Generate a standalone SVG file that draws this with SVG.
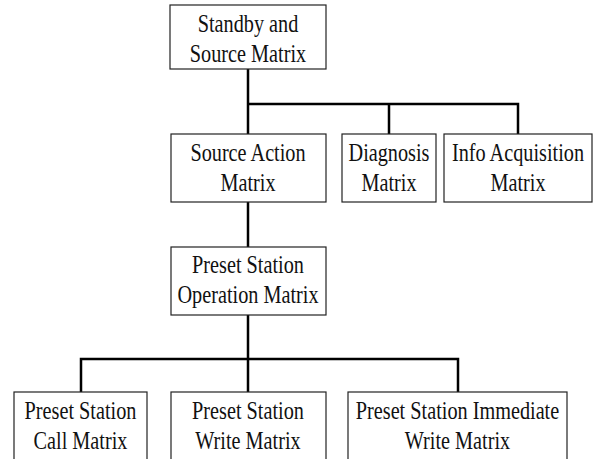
<svg xmlns="http://www.w3.org/2000/svg" width="593" height="459" viewBox="0 0 593 459">
<style>
.box{fill:#fff;stroke:#222;stroke-width:1.2}
.lbl{font-family:"Liberation Serif","Times New Roman",serif;font-size:25px;fill:#111;text-anchor:middle}
.con{stroke:#000;stroke-width:2.5;fill:none}
</style>
<rect width="593" height="459" fill="#fff"/>
<g id="connectors">
<path class="con" d="M248,69V134M248,104H518V134M389,104V134"/>
<path class="con" d="M248,202V247"/>
<path class="con" d="M248,315V392M81,392V359H458V392"/>
</g>
<g id="standby">
<rect class="box" x="170" y="5" width="156" height="64"/>
<g transform="translate(248,0) scale(0.81,1)"><text class="lbl" x="0" y="32">Standby and</text><text class="lbl" x="0" y="62">Source Matrix</text></g>
</g>
<g id="source-action">
<rect class="box" x="171" y="134" width="155" height="68"/>
<g transform="translate(248,0) scale(0.81,1)"><text class="lbl" x="0" y="161">Source Action</text><text class="lbl" x="0" y="191">Matrix</text></g>
</g>
<g id="diagnosis">
<rect class="box" x="342" y="134" width="94" height="68"/>
<g transform="translate(389,0) scale(0.81,1)"><text class="lbl" x="0" y="161">Diagnosis</text><text class="lbl" x="0" y="191">Matrix</text></g>
</g>
<g id="info">
<rect class="box" x="444" y="134" width="148" height="68"/>
<g transform="translate(518,0) scale(0.81,1)"><text class="lbl" x="0" y="161">Info Acquisition</text><text class="lbl" x="0" y="191">Matrix</text></g>
</g>
<g id="preset-op">
<rect class="box" x="171" y="247" width="155" height="68"/>
<g transform="translate(248,0) scale(0.81,1)"><text class="lbl" x="0" y="273">Preset Station</text><text class="lbl" x="0" y="303">Operation Matrix</text></g>
</g>
<g id="preset-call">
<rect class="box" x="14" y="392" width="133" height="80"/>
<g transform="translate(80.5,0) scale(0.81,1)"><text class="lbl" x="0" y="419">Preset Station</text><text class="lbl" x="0" y="449">Call Matrix</text></g>
</g>
<g id="preset-write">
<rect class="box" x="171" y="392" width="155" height="80"/>
<g transform="translate(248,0) scale(0.81,1)"><text class="lbl" x="0" y="419">Preset Station</text><text class="lbl" x="0" y="449">Write Matrix</text></g>
</g>
<g id="preset-immediate">
<rect class="box" x="348" y="392" width="219" height="80"/>
<g transform="translate(457.5,0) scale(0.81,1)"><text class="lbl" x="0" y="419">Preset Station Immediate</text><text class="lbl" x="0" y="449">Write Matrix</text></g>
</g>
</svg>
